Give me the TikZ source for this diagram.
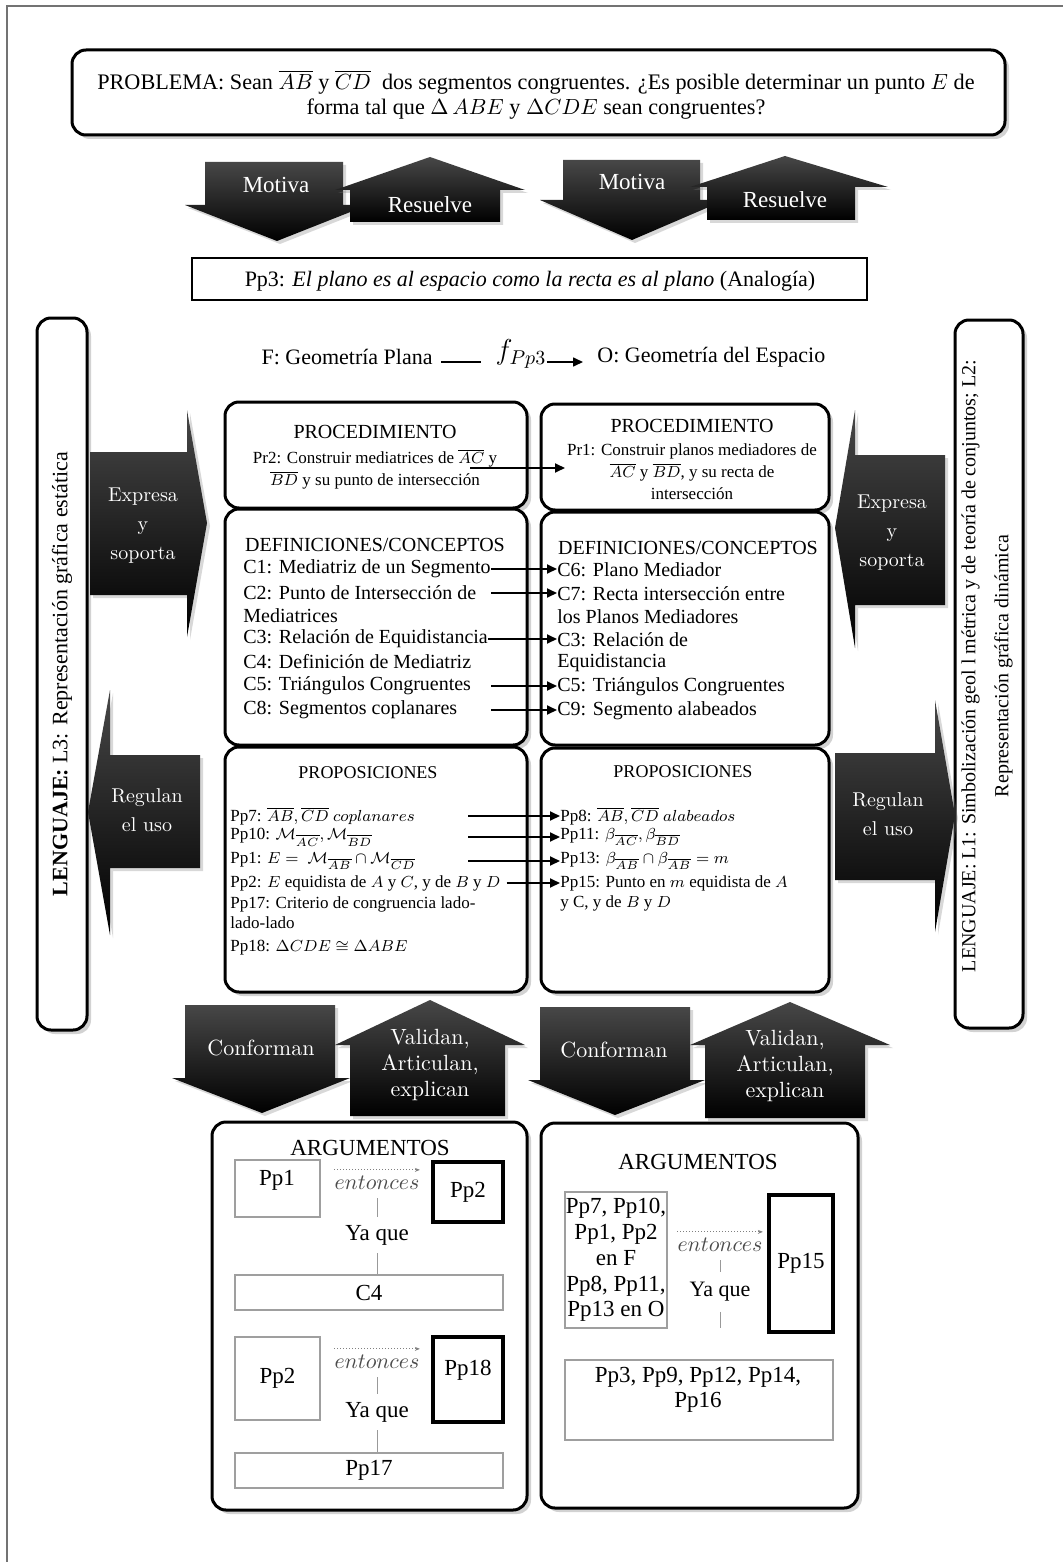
\documentclass[tikz,border=0pt]{standalone}
\usepackage{fontspec}
\setmainfont{Liberation Serif}
\newfontfamily\lmfont{Latin Modern Roman}
\usetikzlibrary{shadows,arrows.meta}
\tikzset{
  mainbox/.style={draw=black,line width=1.5pt,rounded corners=7pt,fill=white,
    drop shadow={shadow xshift=2pt,shadow yshift=-2pt,opacity=0.35}},
  blk/.style={top color=black!72,bottom color=black,draw=none,
    drop shadow={shadow xshift=1.5pt,shadow yshift=-1.5pt,opacity=0.3}},
  arr/.style={-{Triangle[length=5pt,width=4.5pt]},line width=0.9pt},
  dotarr/.style={densely dotted,gray,line width=0.5pt,-{Stealth[length=2.5pt,width=2pt]}},
  vline/.style={gray!80,line width=0.5pt},
  thinbox/.style={draw=gray!75,line width=0.6pt,inner sep=0pt},
  thickbox/.style={draw=black,line width=2pt,inner sep=0pt},
  tx/.style={inner sep=0pt},
  f12/.style={tx,font=\fontsize{11.5}{12.5}\selectfont},
  f11/.style={tx,font=\fontsize{11}{12}\selectfont},
  f10/.style={tx,font=\fontsize{10}{11.75}\selectfont},
  f9/.style={tx,font=\fontsize{9}{10.5}\selectfont},
  f85/.style={tx,font=\fontsize{8.5}{11}\selectfont},
  wlab/.style={tx,text=white,font=\lmfont\fontsize{10}{14.5}\selectfont,align=center},
  wlabB/.style={tx,text=white,font=\lmfont\fontsize{11}{12.8}\selectfont,align=center},
  wtim/.style={tx,text=white,font=\fontsize{11.5}{13}\selectfont},
  lft/.style={anchor=west},
}
\begin{document}
\begin{tikzpicture}[x=0.5pt,y=-0.5pt]
\useasboundingbox (0,0) rectangle (1063,1562);
\fill[white] (0,0) rectangle (1063,1562);
\draw[black!55,line width=0.7pt] (7,1562) -- (7,6) -- (1063,6);

% ---------- problem
\draw[mainbox] (72,50) rectangle (1005,135);
\node[tx,font=\fontsize{11.1}{12.5}\selectfont,align=center] (prob) at (536,95)
 {PROBLEMA: Sean $\overline{AB}$ y $\overline{CD}$\ \ dos segmentos congruentes. ¿Es posible determinar un punto $E$ de\\
  forma tal que $\Delta\,ABE$ y $\Delta CDE$ sean congruentes?};

% ---------- top block arrows
\path[blk] (205,162) -- (343,162) -- (343,205) -- (368,205) -- (277,241) -- (185,205) -- (205,205) -- cycle;
\path[blk] (350,222) -- (500,222) -- (500,190) -- (525,190) -- (430,157) -- (335,190) -- (350,190) -- cycle;
\path[blk] (563,160) -- (700,160) -- (700,200) -- (725,200) -- (632,240) -- (540,200) -- (563,200) -- cycle;
\path[blk] (707,220) -- (855,220) -- (855,187) -- (888,187) -- (785,156) -- (690,187) -- (707,187) -- cycle;
\node[wtim] (motL) at (276,185) {Motiva};
\node[wtim] (resL) at (430,205) {Resuelve};
\node[wtim] (motR) at (632,182) {Motiva};
\node[wtim] (resR) at (785,200) {Resuelve};

% ---------- Pp3
\draw[line width=0.6pt] (192,258) rectangle (867,300);
\node[f11] (pp3) at (530,281) {Pp3: \textit{El plano es al espacio como la recta es al plano} (Analogía)};

% ---------- language boxes
\draw[mainbox] (37,318) rectangle (87,1030);
\node[f11,rotate=90] (lang3) at (62,674) {\textbf{LENGUAJE:} L3: Representación gráfica estática};
\draw[mainbox] (955,320) rectangle (1023,1028);
\node[tx,font=\fontsize{10}{16.5}\selectfont,rotate=90,align=center] (lang1) at (987,666)
 {LENGUAJE: L1: Simbolización geol l métrica y de teoría de conjuntos; L2:\\ Representación gráfica dinámica};

% ---------- side block arrows
\path[blk] (90,452) -- (187,452) -- (187,410) -- (207,523) -- (187,637) -- (187,595) -- (90,595) -- cycle;
\path[blk] (200,755) -- (110,755) -- (110,690) -- (88,812) -- (110,935) -- (110,868) -- (200,868) -- cycle;
\path[blk] (945,455) -- (855,455) -- (855,410) -- (835,528) -- (855,648) -- (855,605) -- (945,605) -- cycle;
\path[blk] (835,753) -- (935,753) -- (935,700) -- (955,815) -- (935,932) -- (935,880) -- (835,880) -- cycle;
\node[wlab] (expL) at (143,526) {Expresa\\y\\soporta};
\node[wlab] (regL) at (147,810) {Regulan\\el uso};
\node[wlab] (expR) at (892,533) {Expresa\\y\\soporta};
\node[wlab] (regR) at (888,814) {Regulan\\el uso};

% ---------- F -> O
\node[f11,anchor=east] (fgeo) at (433,357) {F: Geometría Plana};
\node[tx,font=\fontsize{14}{14}\selectfont] (fsym) at (521,354) {$f_{Pp3}$};
\node[f11,anchor=west] (ogeo) at (597,357) {O: Geometría del Espacio};
\draw[line width=0.8pt] ([xshift=4pt,yshift=-2.5pt]fgeo.east) -- ([xshift=-7pt,yshift=-4pt]fsym.west);
\draw[arr,line width=0.8pt] ([yshift=-4pt]fsym.east) -- ([xshift=-7pt,yshift=-2.5pt]ogeo.west);

% ---------- main boxes
\draw[mainbox] (225,402) rectangle (527,508);
\draw[mainbox] (541,404) rectangle (829,510);
\draw[mainbox] (225,509) rectangle (527,745);
\draw[mainbox] (541,512) rectangle (829,745);
\draw[mainbox] (225,747) rectangle (527,992);
\draw[mainbox] (541,748) rectangle (829,992);

% procedimiento
\node[f10] (procL) at (375,432) {PROCEDIMIENTO};
\node[f85,align=center] (pr2) at (375,469) {Pr2: Construir mediatrices de $\overline{AC}$ y\\ $\overline{BD}$ y su punto de intersección};
\node[f10] (procR) at (692,426) {PROCEDIMIENTO};
\node[f85,align=center] (pr1) at (692,472) {Pr1: Construir planos mediadores de\\ $\overline{AC}$ y $\overline{BD}$, y su recta de\\ intersección};
\coordinate (prA) at (470,468);
\coordinate (prB) at (565,468);
\draw[arr] (prA) -- (prB);

% definiciones
\node[f10] (defL) at (375,545) {DEFINICIONES/CONCEPTOS};
\node[f10] (defR) at (688,548) {DEFINICIONES/CONCEPTOS};
\node[f10,lft] (c1) at (243,569) {C1: Mediatriz de un Segmento};
\node[f10,lft] (c2) at (243,593) {C2: Punto de Intersección de};
\node[f10,lft] (c2b) at (243,616) {Mediatrices};
\node[f10,lft] (c3) at (243,639) {C3: Relación de Equidistancia};
\node[f10,lft] (c4) at (243,662) {C4: Definición de Mediatriz};
\node[f10,lft] (c5) at (243,686) {C5: Triángulos Congruentes};
\node[f10,lft] (c8) at (243,710) {C8: Segmentos coplanares};
\node[f10,lft] (c6) at (557,570) {C6: Plano Mediador};
\node[f10,lft] (c7) at (557,594) {C7: Recta intersección entre};
\node[f10,lft] (c7b) at (557,617) {los Planos Mediadores};
\node[f10,lft] (c3r) at (557,640) {C3: Relación de};
\node[f10,lft] (c3rb) at (557,663) {Equidistancia};
\node[f10,lft] (c5r) at (557,687) {C5: Triángulos Congruentes};
\node[f10,lft] (c9) at (557,711) {C9: Segmento alabeados};
\coordinate (xd) at (491,0);
\draw[arr] (c1.east) -- (c1.east -| c6.west);
\draw[arr] (c2.east -| xd) -- (c2.east -| c7.west);
\draw[arr] (c3.east) -- (c3.east -| c3r.west);
\draw[arr] (c5.east -| xd) -- (c5.east -| c5r.west);
\draw[arr] (c8.east -| xd) -- (c8.east -| c9.west);

% proposiciones
\node[f9] (propL) at (368,773) {PROPOSICIONES};
\node[f9] (propR) at (683,772) {PROPOSICIONES};
\node[f85,lft] (pp7) at (230,816) {Pp7: $\overline{AB},\overline{CD}$ $coplanares$};
\node[f85,lft] (pp10) at (230,837) {Pp10: $\mathcal{M}_{\overline{AC}},\mathcal{M}_{\overline{BD}}$};
\node[f85,lft] (pp1) at (230,861) {Pp1: $E=\ \mathcal{M}_{\overline{AB}}\cap\mathcal{M}_{\overline{CD}}$};
\node[f85,lft] (pp2) at (230,883) {Pp2: $E$ equidista de $A$ y $C$, y de $B$ y $D$};
\node[f85,lft] (pp17) at (230,904) {Pp17: Criterio de congruencia lado-};
\node[f85,lft] (pp17b) at (230,923) {lado-lado};
\node[f85,lft] (pp18) at (230,948) {Pp18: $\Delta CDE\cong\Delta ABE$};
\node[f85,lft] (pp8) at (560,816) {Pp8: $\overline{AB},\overline{CD}$ $alabeados$};
\node[f85,lft] (pp11) at (560,837) {Pp11: $\beta_{\overline{AC}},\beta_{\overline{BD}}$};
\node[f85,lft] (pp13) at (560,861) {Pp13: $\beta_{\overline{AB}}\cap\beta_{\overline{AB}}=m$};
\node[f85,lft] (pp15) at (560,883) {Pp15: Punto en $m$ equidista de $A$};
\node[f85,lft] (pp15b) at (560,903) {y C, y de $B$ y $D$};
\coordinate (xp) at (468,0);
\draw[arr] (pp7.east -| xp) -- (pp7.east -| pp8.west);
\draw[arr] (pp10.east -| xp) -- (pp10.east -| pp11.west);
\draw[arr] (pp1.east -| xp) -- (pp1.east -| pp13.west);
\draw[arr] ([xshift=3pt]pp2.east) -- (pp2.east -| pp15.west);

% ---------- bottom block arrows
\path[blk] (185,1005) -- (335,1005) -- (335,1078) -- (350,1078) -- (262,1113) -- (172,1078) -- (185,1078) -- cycle;
\path[blk] (350,1116) -- (505,1116) -- (505,1045) -- (525,1045) -- (430,1000) -- (335,1045) -- (350,1045) -- cycle;
\path[blk] (540,1007) -- (690,1007) -- (690,1080) -- (705,1080) -- (615,1115) -- (528,1080) -- (540,1080) -- cycle;
\path[blk] (705,1118) -- (865,1118) -- (865,1045) -- (890,1045) -- (790,1002) -- (690,1045) -- (705,1045) -- cycle;
\node[wlabB] (conL) at (261,1048) {Conforman};
\node[wlabB] (valL) at (430,1065) {Validan,\\Articulan,\\explican};
\node[wlabB] (conR) at (614,1050) {Conforman};
\node[wlabB] (valR) at (785,1066) {Validan,\\Articulan,\\explican};

% ---------- argumentos left
\draw[mainbox] (212,1122) rectangle (527,1510);
\node[f12] (argL) at (370,1148) {ARGUMENTOS};
\node[thinbox,minimum width=42.5pt,minimum height=28.5pt] (a1box) at (277.5,1188.5) {};
\node[f12] (a1) at (277,1180) {Pp1};
\node[tx,font=\fontsize{11}{12}\selectfont,text=gray!60!black] (ent1) at (377,1183) {$entonces$};
\draw[dotarr] ([yshift=3pt]ent1.north west) -- ([yshift=3pt]ent1.north east);
\node[thickbox,minimum width=35pt,minimum height=30pt,font=\fontsize{11.5}{12}\selectfont] (a2box) at (468,1192) {Pp2};
\node[f12] (ya1) at (377,1235) {Ya que};
\node[thinbox,minimum width=134pt,minimum height=17.5pt,font=\fontsize{11.5}{12}\selectfont] (c4box) at (369,1292.5) {C4};
\draw[vline] ([yshift=-4pt]ya1.north |- ent1.south) -- ([yshift=4pt]ya1.north);
\draw[vline] ([yshift=-4pt]ya1.south) -- (ya1.south |- c4box.north);

\node[thinbox,minimum width=42.5pt,minimum height=41.5pt,font=\fontsize{11.5}{12}\selectfont] (b1box) at (277.5,1378.5) {Pp2};
\node[tx,font=\fontsize{11}{12}\selectfont,text=gray!60!black] (ent2) at (377,1362) {$entonces$};
\draw[dotarr] ([yshift=3pt]ent2.north west) -- ([yshift=3pt]ent2.north east);
\node[thickbox,minimum width=35pt,minimum height=42.5pt] (b2box) at (468,1379.5) {};
\node[f12] (b2) at (468,1370) {Pp18};
\node[f12] (ya2) at (377,1412) {Ya que};
\node[thinbox,minimum width=134pt,minimum height=17.5pt,font=\fontsize{11.5}{12}\selectfont] (p17box) at (369,1470.5) {Pp17};
\draw[vline] ([yshift=-4pt]ya2.north |- ent2.south) -- ([yshift=4pt]ya2.north);
\draw[vline] ([yshift=-4pt]ya2.south) -- (ya2.south |- p17box.north);

% ---------- argumentos right
\draw[mainbox] (541,1123) rectangle (858,1508);
\node[f12] (argR) at (698,1162) {ARGUMENTOS};
\node[thinbox,minimum width=51pt,minimum height=68pt,align=center,
      font=\fontsize{11.5}{12.9}\selectfont] (r1box) at (616,1260) {Pp7, Pp10,\\Pp1, Pp2\\en F\\Pp8, Pp11,\\Pp13 en O};
\node[tx,font=\fontsize{10.5}{12}\selectfont,text=gray!60!black] (ent3) at (720,1245) {$entonces$};
\draw[dotarr] ([yshift=3pt]ent3.north west) -- ([yshift=3pt]ent3.north east);
\node[f11] (ya3) at (720,1292) {Ya que};
\draw[vline] ([yshift=-4pt]ya3.north |- ent3.south) -- ([yshift=5pt]ya3.north);
\coordinate (ya3end) at (720,1328);
\draw[vline] ([yshift=-5pt]ya3.south) -- (ya3end);
\node[thickbox,minimum width=32pt,minimum height=68.5pt,font=\fontsize{11.5}{12}\selectfont] (r2box) at (801,1263.5) {Pp15};
\node[thinbox,minimum width=134pt,minimum height=40pt] (r3box) at (699,1400) {};
\node[f12,align=center] (r3) at (698,1390) {Pp3, Pp9, Pp12, Pp14,\\Pp16};
\end{tikzpicture}
\end{document}
